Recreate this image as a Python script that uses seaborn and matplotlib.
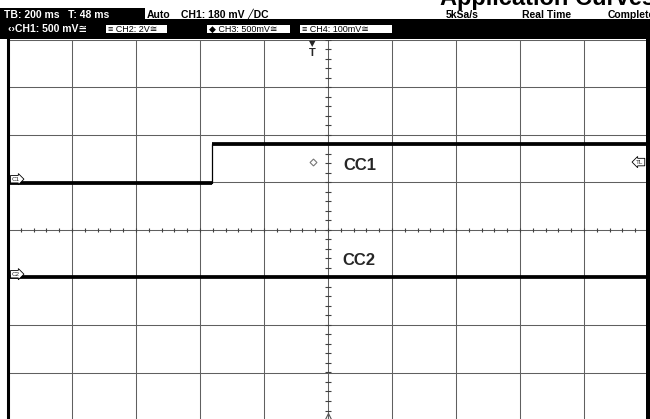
import numpy as np
import matplotlib.pyplot as plt
import matplotlib.transforms as mtransforms
from matplotlib.patches import Rectangle
import seaborn as sns

# scope settings, read from the header
time_per_div = 200          # ms / div
trig_delay = 48             # ms, screen centre after the trigger
ch1_scale = 0.5             # V / div
ch2_scale = 2.0             # V / div
ch1_ground = 1.07           # div above screen centre
ch2_ground = -0.93          # div above screen centre
trig_level = 0.18           # V on CH1

# traces (time in ms from trigger, volts)
cc1_time = [-952, -315, 1048]
cc1_volts = [-0.04, 0.37, 0.37]
cc2_time = [-952, 1048]
cc2_volts = [-0.12, -0.12]

W, H = 650, 419

sns.set_theme(style="white")
plt.rcParams['font.family'] = ['Liberation Sans', 'DejaVu Sans']


def fx(x):
    return x / W


def fy(y):
    return 1 - y / H


fig = plt.figure(figsize=(W / 100, H / 100), dpi=100)
fig.patch.set_facecolor('white')

# scope screen: 10 x 8 divisions
ax = fig.add_axes([fx(8), fy(420), 640 / W, 380 / H])
t0 = trig_delay - 5 * time_per_div
t1 = trig_delay + 5 * time_per_div
ax.set_xlim(t0, t1)
ax.set_ylim(-4, 4)
ax.set_xticks(np.arange(t0, t1 + 1, time_per_div))
ax.set_yticks(np.arange(-4, 5))
ax.tick_params(length=0, labelbottom=False, labelleft=False)
ax.grid(True, color='#606060', lw=0.75)
ax.set_axisbelow(True)
ax.set_facecolor('white')
for side in ['top', 'bottom']:
    ax.spines[side].set_visible(False)
for side in ['left', 'right']:
    ax.spines[side].set_color('black')
    ax.spines[side].set_linewidth(2.2)

# minor ticks on the centre axes
ax.vlines(np.arange(t0, t1 + 1, time_per_div / 5), -0.05, 0.05, color='#404040', lw=0.8)
ax.hlines(np.arange(-4, 4.01, 0.2), trig_delay - 8, trig_delay + 8, color='#404040', lw=0.8)

# traces, volts -> divisions
cc1_div = ch1_ground + np.array(cc1_volts) / ch1_scale
cc2_div = ch2_ground + np.array(cc2_volts) / ch2_scale

sns.lineplot(x=cc1_time, y=cc1_div, drawstyle='steps-post', color='black', lw=0.9, ax=ax)
for i in range(len(cc1_time) - 1):
    ax.plot([cc1_time[i], cc1_time[i + 1]], [cc1_div[i], cc1_div[i]], color='black', lw=2.7,
            solid_capstyle='butt')
sns.lineplot(x=cc2_time, y=cc2_div, color='black', lw=2.7, ax=ax)

ax.text(95, 1.26, 'CC1', fontsize=12, fontweight='bold', va='baseline')
ax.text(92, -0.74, 'CC2', fontsize=12, fontweight='bold', va='baseline')

# ground / trigger markers
blend = mtransforms.blended_transform_factory(ax.transAxes, ax.transData)
tag = dict(fc='white', ec='black', lw=0.6)
ax.text(0.006, ch1_ground, 'C1', transform=blend, fontsize=4.5, ha='left', va='center',
        bbox=dict(boxstyle='rarrow,pad=0.2', **tag))
ax.text(0.006, ch2_ground, 'C2', transform=blend, fontsize=4.5, ha='left', va='center',
        bbox=dict(boxstyle='rarrow,pad=0.2', **tag))
trig_div = ch1_ground + trig_level / ch1_scale
ax.text(0.993, trig_div, 'TL', transform=blend, fontsize=4.5, ha='right', va='center',
        bbox=dict(boxstyle='larrow,pad=0.2', **tag))
ax.plot(0, trig_div, marker='D', ms=3.5, mfc='white', mec='#777777', mew=0.8, ls='none')
ax.text(0, 3.93, '\u25bc', fontsize=6, ha='center', va='center', family='DejaVu Sans')
ax.text(0, 3.72, 'T', fontsize=8, fontweight='bold', ha='center', va='center')
ax.plot(trig_delay, -3.92, marker='^', ms=5, mfc='none', mec='#555555', mew=0.8, clip_on=False)

# header
fig.add_artist(Rectangle((fx(0), fy(39)), 1, 20 / H, transform=fig.transFigure,
                         fc='black', ec='none'))
fig.add_artist(Rectangle((fx(0), fy(19)), 145 / W, 11 / H, transform=fig.transFigure,
                         fc='black', ec='none'))
fig.add_artist(Rectangle((fx(646), fy(420)), 4 / W, 381 / H, transform=fig.transFigure,
                         fc='black', ec='none'))

hdr = dict(fontsize=7.5, fontweight='bold', va='center')
fig.text(fx(4), fy(14.5), 'TB: 200 ms   T: 48 ms', color='white', **hdr)
fig.text(fx(147), fy(14.5), 'Auto', color='black', **hdr)
fig.text(fx(181), fy(14.5), 'CH1: 180 mV \u2571DC', color='black', **hdr)
fig.text(fx(446), fy(15), '5kSa/s', color='black', **hdr)
fig.text(fx(522), fy(15), 'Real Time', color='black', **hdr)
fig.text(fx(608), fy(15), 'Complete', color='black', **hdr)
fig.text(fx(440), fy(4.5), 'Application Curves', fontsize=17, fontweight='bold',
         va='baseline', color='black')

fig.text(fx(8), fy(29), '\u2039\u203aCH1: 500 mV\u2245', color='white', **hdr)
for x_left, x_right, label in [(106, 167, '\u2261 CH2: 2V\u2245'),
                               (207, 290, '\u25c6 CH3: 500mV\u2245'),
                               (300, 392, '\u2261 CH4: 100mV\u2245')]:
    fig.add_artist(Rectangle((fx(x_left), fy(33)), (x_right - x_left) / W, 8 / H,
                             transform=fig.transFigure, fc='white', ec='none'))
    fig.text(fx(x_left + 2), fy(29), label, color='black', fontsize=6.5, va='center')

fig.savefig('out.png', dpi=100)
